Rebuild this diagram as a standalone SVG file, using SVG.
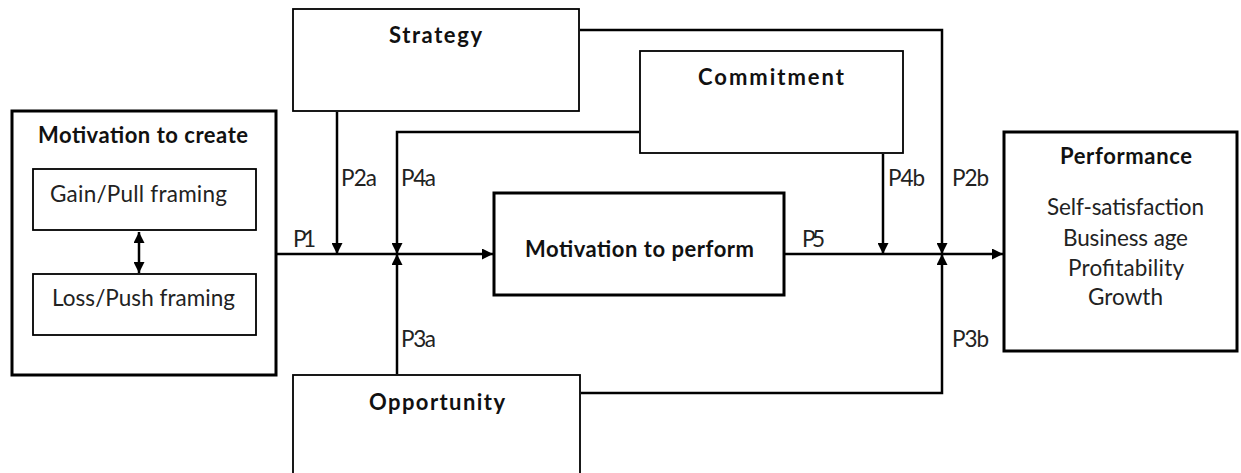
<svg xmlns="http://www.w3.org/2000/svg" width="1241" height="473" viewBox="0 0 1241 473">
<style>
.box{fill:#fff;stroke:#000;stroke-width:1.8}
.thick{fill:#fff;stroke:#000;stroke-width:3}
.ln{fill:none;stroke:#000;stroke-width:2.5}
.t{font-family:Lato,"Open Sans","Liberation Sans",sans-serif;font-size:22.5px;fill:#222}
.b{font-family:Lato,"Open Sans","Liberation Sans",sans-serif;font-size:22px;font-weight:700;fill:#111}
</style>
<defs>
<marker id="ah" markerUnits="userSpaceOnUse" markerWidth="11" markerHeight="11" refX="11" refY="5.5" orient="auto"><path d="M0,0 L11,5.5 L0,11 z" fill="#000"/></marker>
<marker id="ahs" markerUnits="userSpaceOnUse" markerWidth="11" markerHeight="11" refX="0" refY="5.5" orient="auto"><path d="M11,0 L0,5.5 L11,11 z" fill="#000"/></marker>
</defs>
<rect width="1241" height="473" fill="#fff"/>
<g id="motivation-create">
<rect class="thick" x="12" y="111" width="264" height="264"/>
<text class="b" x="38" y="143" textLength="210">Motivation to create</text>
</g>
<g id="gain-pull">
<rect class="box" x="33" y="169" width="223" height="61"/>
<text class="t" x="50" y="202" textLength="177">Gain/Pull framing</text>
</g>
<g id="loss-push">
<rect class="box" x="33" y="274" width="223" height="61"/>
<text class="t" x="52" y="306" textLength="183">Loss/Push framing</text>
</g>
<g id="strategy">
<rect class="box" x="293" y="9" width="286" height="102"/>
<text class="b" x="389" y="43" textLength="93">Strategy</text>
</g>
<g id="commitment">
<rect class="box" x="640" y="51" width="263" height="102"/>
<text class="b" x="698" y="85" textLength="146">Commitment</text>
</g>
<g id="motivation-perform">
<rect class="thick" x="494" y="193" width="290" height="102"/>
<text class="b" x="525" y="257" textLength="229">Motivation to perform</text>
</g>
<g id="performance">
<rect class="thick" x="1004" y="132" width="233" height="219"/>
<text class="b" x="1060" y="164" textLength="132">Performance</text>
<text class="t" x="1047" y="215" textLength="157">Self-satisfaction</text>
<text class="t" x="1063" y="246" textLength="125">Business age</text>
<text class="t" x="1068" y="276" textLength="116">Profitability</text>
<text class="t" x="1088" y="305" textLength="75">Growth</text>
</g>
<g id="opportunity">
<rect class="box" x="293" y="375" width="287" height="120"/>
<text class="b" x="369" y="410" textLength="136">Opportunity</text>
</g>
<g id="connectors">
<path class="ln" d="M139,232 V273" marker-start="url(#ahs)" marker-end="url(#ah)"/>
<path class="ln" d="M277,254 H493" marker-end="url(#ah)"/>
<path class="ln" d="M337,112 V254" marker-end="url(#ah)"/>
<path class="ln" d="M639,132 H397 V254" marker-end="url(#ah)"/>
<path class="ln" d="M397,374 V254" marker-end="url(#ah)"/>
<path class="ln" d="M785,254 H1003" marker-end="url(#ah)"/>
<path class="ln" d="M883,154 V254" marker-end="url(#ah)"/>
<path class="ln" d="M580,30 H942 V254" marker-end="url(#ah)"/>
<path class="ln" d="M581,393 H942 V254" marker-end="url(#ah)"/>
<text class="t" x="293" y="247" textLength="23">P1</text>
<text class="t" x="341" y="186" textLength="36">P2a</text>
<text class="t" x="401" y="186" textLength="35">P4a</text>
<text class="t" x="401" y="347" textLength="35">P3a</text>
<text class="t" x="802" y="247" textLength="23">P5</text>
<text class="t" x="888" y="186" textLength="37">P4b</text>
<text class="t" x="952" y="186" textLength="37">P2b</text>
<text class="t" x="952" y="347" textLength="37">P3b</text>
</g>
</svg>
